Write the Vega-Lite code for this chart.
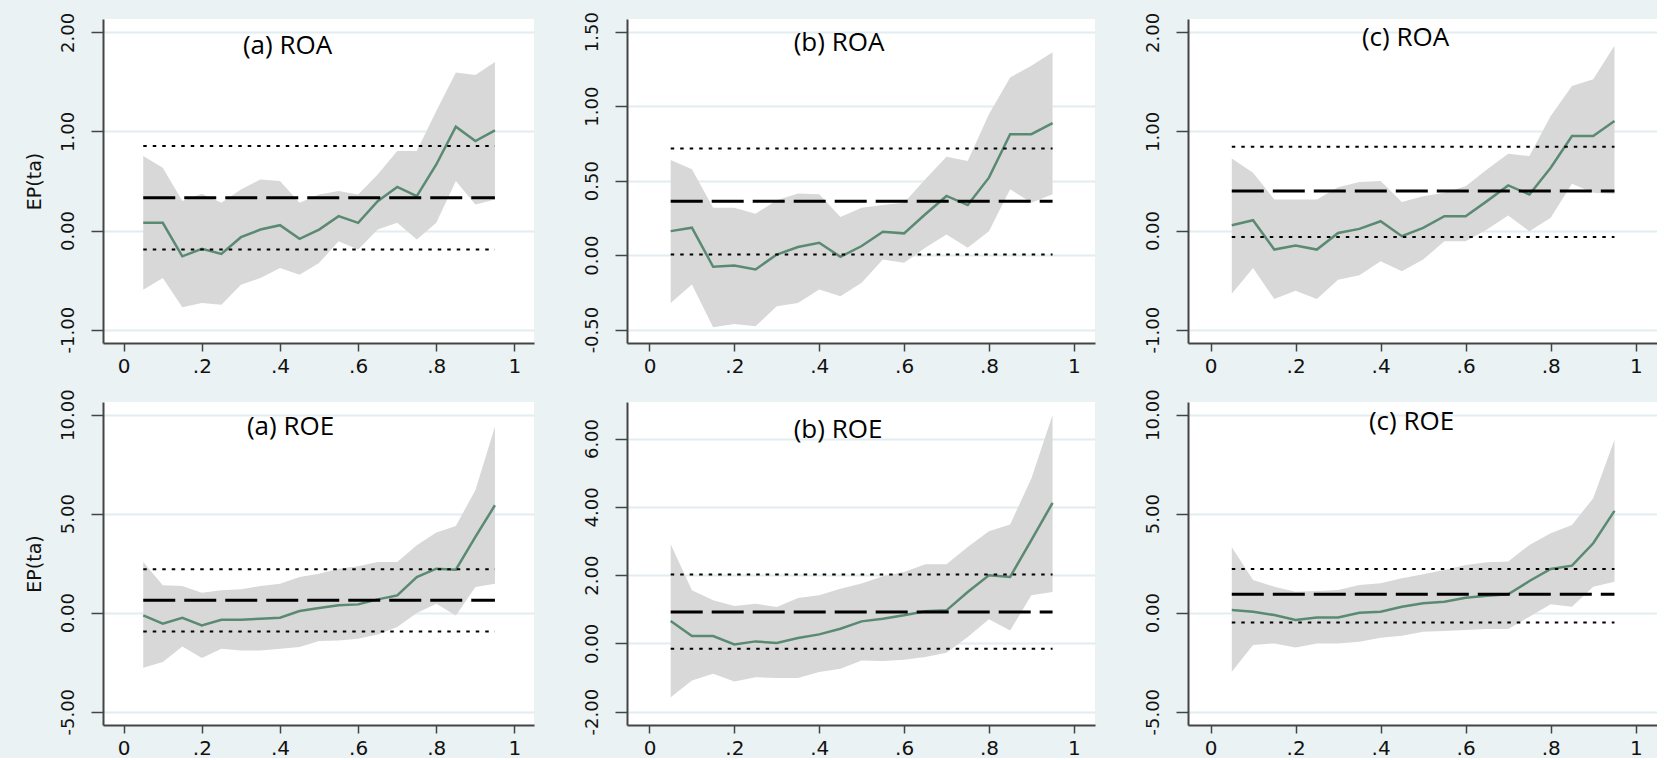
{
  "$schema": "https://vega.github.io/schema/vega-lite/v6.json",
  "background": "#eaf2f3",
  "padding": {"left": 25, "top": 11, "right": 0, "bottom": 0},
  "datasets": {
    "aROA": [
      {"q":0.05,"b":0.078,"lo":-0.597,"hi":0.752,"m":0.33,"ml":-0.192,"mh":0.853},
      {"q":0.10,"b":0.078,"lo":-0.479,"hi":0.634,"m":0.33,"ml":-0.192,"mh":0.853},
      {"q":0.15,"b":-0.26,"lo":-0.775,"hi":0.297,"m":0.33,"ml":-0.192,"mh":0.853},
      {"q":0.20,"b":-0.185,"lo":-0.731,"hi":0.371,"m":0.33,"ml":-0.192,"mh":0.853},
      {"q":0.25,"b":-0.236,"lo":-0.748,"hi":0.28,"m":0.33,"ml":-0.192,"mh":0.853},
      {"q":0.30,"b":-0.067,"lo":-0.546,"hi":0.415,"m":0.33,"ml":-0.192,"mh":0.853},
      {"q":0.35,"b":0.01,"lo":-0.479,"hi":0.516,"m":0.33,"ml":-0.192,"mh":0.853},
      {"q":0.40,"b":0.054,"lo":-0.378,"hi":0.499,"m":0.33,"ml":-0.192,"mh":0.853},
      {"q":0.45,"b":-0.084,"lo":-0.445,"hi":0.28,"m":0.33,"ml":-0.192,"mh":0.853},
      {"q":0.50,"b":0.01,"lo":-0.327,"hi":0.364,"m":0.33,"ml":-0.192,"mh":0.853},
      {"q":0.55,"b":0.145,"lo":-0.108,"hi":0.398,"m":0.33,"ml":-0.192,"mh":0.853},
      {"q":0.60,"b":0.078,"lo":-0.192,"hi":0.364,"m":0.33,"ml":-0.192,"mh":0.853},
      {"q":0.65,"b":0.297,"lo":0.01,"hi":0.566,"m":0.33,"ml":-0.192,"mh":0.853},
      {"q":0.70,"b":0.44,"lo":0.078,"hi":0.802,"m":0.33,"ml":-0.192,"mh":0.853},
      {"q":0.75,"b":0.347,"lo":-0.091,"hi":0.802,"m":0.33,"ml":-0.192,"mh":0.853},
      {"q":0.80,"b":0.667,"lo":0.078,"hi":1.207,"m":0.33,"ml":-0.192,"mh":0.853},
      {"q":0.85,"b":1.048,"lo":0.499,"hi":1.594,"m":0.33,"ml":-0.192,"mh":0.853},
      {"q":0.90,"b":0.903,"lo":0.263,"hi":1.571,"m":0.33,"ml":-0.192,"mh":0.853},
      {"q":0.95,"b":1.01,"lo":0.313,"hi":1.702,"m":0.33,"ml":-0.192,"mh":0.853}
    ],
    "bROA": [
      {"q":0.05,"b":0.161,"lo":-0.321,"hi":0.639,"m":0.361,"ml":0.004,"mh":0.715},
      {"q":0.10,"b":0.184,"lo":-0.197,"hi":0.576,"m":0.361,"ml":0.004,"mh":0.715},
      {"q":0.15,"b":-0.078,"lo":-0.484,"hi":0.318,"m":0.361,"ml":0.004,"mh":0.715},
      {"q":0.20,"b":-0.07,"lo":-0.462,"hi":0.318,"m":0.361,"ml":0.004,"mh":0.715},
      {"q":0.25,"b":-0.096,"lo":-0.478,"hi":0.278,"m":0.361,"ml":0.004,"mh":0.715},
      {"q":0.30,"b":0.004,"lo":-0.343,"hi":0.368,"m":0.361,"ml":0.004,"mh":0.715},
      {"q":0.35,"b":0.054,"lo":-0.321,"hi":0.413,"m":0.361,"ml":0.004,"mh":0.715},
      {"q":0.40,"b":0.083,"lo":-0.231,"hi":0.408,"m":0.361,"ml":0.004,"mh":0.715},
      {"q":0.45,"b":-0.011,"lo":-0.276,"hi":0.256,"m":0.361,"ml":0.004,"mh":0.715},
      {"q":0.50,"b":0.061,"lo":-0.186,"hi":0.318,"m":0.361,"ml":0.004,"mh":0.715},
      {"q":0.55,"b":0.157,"lo":-0.029,"hi":0.336,"m":0.361,"ml":0.004,"mh":0.715},
      {"q":0.60,"b":0.146,"lo":-0.052,"hi":0.352,"m":0.361,"ml":0.004,"mh":0.715},
      {"q":0.65,"b":0.274,"lo":0.049,"hi":0.509,"m":0.361,"ml":0.004,"mh":0.715},
      {"q":0.70,"b":0.397,"lo":0.139,"hi":0.661,"m":0.361,"ml":0.004,"mh":0.715},
      {"q":0.75,"b":0.336,"lo":0.049,"hi":0.632,"m":0.361,"ml":0.004,"mh":0.715},
      {"q":0.80,"b":0.52,"lo":0.161,"hi":0.946,"m":0.361,"ml":0.004,"mh":0.715},
      {"q":0.85,"b":0.812,"lo":0.442,"hi":1.193,"m":0.361,"ml":0.004,"mh":0.715},
      {"q":0.90,"b":0.812,"lo":0.352,"hi":1.271,"m":0.361,"ml":0.004,"mh":0.715},
      {"q":0.95,"b":0.886,"lo":0.408,"hi":1.361,"m":0.361,"ml":0.004,"mh":0.715}
    ],
    "cROA": [
      {"q":0.05,"b":0.054,"lo":-0.637,"hi":0.728,"m":0.398,"ml":-0.064,"mh":0.846},
      {"q":0.10,"b":0.104,"lo":-0.378,"hi":0.583,"m":0.398,"ml":-0.064,"mh":0.846},
      {"q":0.15,"b":-0.192,"lo":-0.691,"hi":0.313,"m":0.398,"ml":-0.064,"mh":0.846},
      {"q":0.20,"b":-0.152,"lo":-0.607,"hi":0.313,"m":0.398,"ml":-0.064,"mh":0.846},
      {"q":0.25,"b":-0.192,"lo":-0.691,"hi":0.313,"m":0.398,"ml":-0.064,"mh":0.846},
      {"q":0.30,"b":-0.024,"lo":-0.496,"hi":0.438,"m":0.398,"ml":-0.064,"mh":0.846},
      {"q":0.35,"b":0.017,"lo":-0.452,"hi":0.489,"m":0.398,"ml":-0.064,"mh":0.846},
      {"q":0.40,"b":0.094,"lo":-0.31,"hi":0.499,"m":0.398,"ml":-0.064,"mh":0.846},
      {"q":0.45,"b":-0.057,"lo":-0.411,"hi":0.287,"m":0.398,"ml":-0.064,"mh":0.846},
      {"q":0.50,"b":0.027,"lo":-0.293,"hi":0.347,"m":0.398,"ml":-0.064,"mh":0.846},
      {"q":0.55,"b":0.145,"lo":-0.108,"hi":0.381,"m":0.398,"ml":-0.064,"mh":0.846},
      {"q":0.60,"b":0.145,"lo":-0.108,"hi":0.448,"m":0.398,"ml":-0.064,"mh":0.846},
      {"q":0.65,"b":0.297,"lo":0.01,"hi":0.617,"m":0.398,"ml":-0.064,"mh":0.846},
      {"q":0.70,"b":0.455,"lo":0.152,"hi":0.775,"m":0.398,"ml":-0.064,"mh":0.846},
      {"q":0.75,"b":0.364,"lo":-0.007,"hi":0.752,"m":0.398,"ml":-0.064,"mh":0.846},
      {"q":0.80,"b":0.634,"lo":0.128,"hi":1.156,"m":0.398,"ml":-0.064,"mh":0.846},
      {"q":0.85,"b":0.954,"lo":0.472,"hi":1.46,"m":0.398,"ml":-0.064,"mh":0.846},
      {"q":0.90,"b":0.954,"lo":0.381,"hi":1.527,"m":0.398,"ml":-0.064,"mh":0.846},
      {"q":0.95,"b":1.106,"lo":0.371,"hi":1.864,"m":0.398,"ml":-0.064,"mh":0.846}
    ],
    "aROE": [
      {"q":0.05,"b":-0.135,"lo":-2.781,"hi":2.562,"m":0.624,"ml":-0.944,"mh":2.191},
      {"q":0.10,"b":-0.556,"lo":-2.494,"hi":1.382,"m":0.624,"ml":-0.944,"mh":2.191},
      {"q":0.15,"b":-0.253,"lo":-1.702,"hi":1.348,"m":0.624,"ml":-0.944,"mh":2.191},
      {"q":0.20,"b":-0.64,"lo":-2.292,"hi":1.011,"m":0.624,"ml":-0.944,"mh":2.191},
      {"q":0.25,"b":-0.354,"lo":-1.82,"hi":1.129,"m":0.624,"ml":-0.944,"mh":2.191},
      {"q":0.30,"b":-0.354,"lo":-1.905,"hi":1.18,"m":0.624,"ml":-0.944,"mh":2.191},
      {"q":0.35,"b":-0.303,"lo":-1.905,"hi":1.348,"m":0.624,"ml":-0.944,"mh":2.191},
      {"q":0.40,"b":-0.253,"lo":-1.82,"hi":1.466,"m":0.624,"ml":-0.944,"mh":2.191},
      {"q":0.45,"b":0.084,"lo":-1.736,"hi":1.803,"m":0.624,"ml":-0.944,"mh":2.191},
      {"q":0.50,"b":0.236,"lo":-1.433,"hi":1.972,"m":0.624,"ml":-0.944,"mh":2.191},
      {"q":0.55,"b":0.371,"lo":-1.399,"hi":2.225,"m":0.624,"ml":-0.944,"mh":2.191},
      {"q":0.60,"b":0.421,"lo":-1.315,"hi":2.343,"m":0.624,"ml":-0.944,"mh":2.191},
      {"q":0.65,"b":0.674,"lo":-1.096,"hi":2.562,"m":0.624,"ml":-0.944,"mh":2.191},
      {"q":0.70,"b":0.876,"lo":-0.725,"hi":2.562,"m":0.624,"ml":-0.944,"mh":2.191},
      {"q":0.75,"b":1.803,"lo":-0.017,"hi":3.405,"m":0.624,"ml":-0.944,"mh":2.191},
      {"q":0.80,"b":2.225,"lo":0.455,"hi":4.045,"m":0.624,"ml":-0.944,"mh":2.191},
      {"q":0.85,"b":2.174,"lo":-0.135,"hi":4.382,"m":0.624,"ml":-0.944,"mh":2.191},
      {"q":0.90,"b":3.826,"lo":1.298,"hi":6.186,"m":0.624,"ml":-0.944,"mh":2.191},
      {"q":0.95,"b":5.427,"lo":1.466,"hi":9.388,"m":0.624,"ml":-0.944,"mh":2.191}
    ],
    "bROE": [
      {"q":0.05,"b":0.655,"lo":-1.575,"hi":2.905,"m":0.919,"ml":-0.156,"mh":2.015},
      {"q":0.10,"b":0.215,"lo":-1.086,"hi":1.555,"m":0.919,"ml":-0.156,"mh":2.015},
      {"q":0.15,"b":0.215,"lo":-0.89,"hi":1.262,"m":0.919,"ml":-0.156,"mh":2.015},
      {"q":0.20,"b":-0.029,"lo":-1.115,"hi":1.095,"m":0.919,"ml":-0.156,"mh":2.015},
      {"q":0.25,"b":0.059,"lo":-0.988,"hi":1.164,"m":0.919,"ml":-0.156,"mh":2.015},
      {"q":0.30,"b":0.01,"lo":-1.017,"hi":1.066,"m":0.919,"ml":-0.156,"mh":2.015},
      {"q":0.35,"b":0.156,"lo":-1.017,"hi":1.33,"m":0.919,"ml":-0.156,"mh":2.015},
      {"q":0.40,"b":0.264,"lo":-0.841,"hi":1.408,"m":0.919,"ml":-0.156,"mh":2.015},
      {"q":0.45,"b":0.43,"lo":-0.743,"hi":1.604,"m":0.919,"ml":-0.156,"mh":2.015},
      {"q":0.50,"b":0.645,"lo":-0.499,"hi":1.751,"m":0.919,"ml":-0.156,"mh":2.015},
      {"q":0.55,"b":0.724,"lo":-0.518,"hi":1.966,"m":0.919,"ml":-0.156,"mh":2.015},
      {"q":0.60,"b":0.822,"lo":-0.479,"hi":2.093,"m":0.919,"ml":-0.156,"mh":2.015},
      {"q":0.65,"b":0.939,"lo":-0.401,"hi":2.318,"m":0.919,"ml":-0.156,"mh":2.015},
      {"q":0.70,"b":0.968,"lo":-0.274,"hi":2.318,"m":0.919,"ml":-0.156,"mh":2.015},
      {"q":0.75,"b":1.506,"lo":0.186,"hi":2.826,"m":0.919,"ml":-0.156,"mh":2.015},
      {"q":0.80,"b":1.995,"lo":0.704,"hi":3.286,"m":0.919,"ml":-0.156,"mh":2.015},
      {"q":0.85,"b":1.946,"lo":0.381,"hi":3.482,"m":0.919,"ml":-0.156,"mh":2.015},
      {"q":0.90,"b":3.022,"lo":1.408,"hi":4.831,"m":0.919,"ml":-0.156,"mh":2.015},
      {"q":0.95,"b":4.117,"lo":1.506,"hi":6.689,"m":0.919,"ml":-0.156,"mh":2.015}
    ],
    "cROE": [
      {"q":0.05,"b":0.135,"lo":-2.985,"hi":3.305,"m":0.927,"ml":-0.489,"mh":2.209},
      {"q":0.10,"b":0.051,"lo":-1.636,"hi":1.653,"m":0.927,"ml":-0.489,"mh":2.209},
      {"q":0.15,"b":-0.118,"lo":-1.551,"hi":1.315,"m":0.927,"ml":-0.489,"mh":2.209},
      {"q":0.20,"b":-0.371,"lo":-1.754,"hi":1.062,"m":0.927,"ml":-0.489,"mh":2.209},
      {"q":0.25,"b":-0.236,"lo":-1.551,"hi":1.096,"m":0.927,"ml":-0.489,"mh":2.209},
      {"q":0.30,"b":-0.236,"lo":-1.551,"hi":1.147,"m":0.927,"ml":-0.489,"mh":2.209},
      {"q":0.35,"b":0.0,"lo":-1.467,"hi":1.4,"m":0.927,"ml":-0.489,"mh":2.209},
      {"q":0.40,"b":0.051,"lo":-1.265,"hi":1.484,"m":0.927,"ml":-0.489,"mh":2.209},
      {"q":0.45,"b":0.304,"lo":-1.164,"hi":1.737,"m":0.927,"ml":-0.489,"mh":2.209},
      {"q":0.50,"b":0.472,"lo":-0.961,"hi":1.939,"m":0.927,"ml":-0.489,"mh":2.209},
      {"q":0.55,"b":0.556,"lo":-0.927,"hi":2.159,"m":0.927,"ml":-0.489,"mh":2.209},
      {"q":0.60,"b":0.759,"lo":-0.877,"hi":2.411,"m":0.927,"ml":-0.489,"mh":2.209},
      {"q":0.65,"b":0.86,"lo":-0.826,"hi":2.546,"m":0.927,"ml":-0.489,"mh":2.209},
      {"q":0.70,"b":0.927,"lo":-0.826,"hi":2.58,"m":0.927,"ml":-0.489,"mh":2.209},
      {"q":0.75,"b":1.602,"lo":-0.202,"hi":3.423,"m":0.927,"ml":-0.489,"mh":2.209},
      {"q":0.80,"b":2.209,"lo":0.422,"hi":4.013,"m":0.927,"ml":-0.489,"mh":2.209},
      {"q":0.85,"b":2.378,"lo":0.304,"hi":4.435,"m":0.927,"ml":-0.489,"mh":2.209},
      {"q":0.90,"b":3.508,"lo":1.315,"hi":5.784,"m":0.927,"ml":-0.489,"mh":2.209},
      {"q":0.95,"b":5.143,"lo":1.568,"hi":8.735,"m":0.927,"ml":-0.489,"mh":2.209}
    ]
  },
  "columns": 3,
  "align": "each",
  "bounds": "flush",
  "spacing": {"row": 59, "column": 93},
  "concat": [
    {
      "width": 431, "height": 324,
      "data": {"name": "aROA"},
      "title": {"text": "(a) ROA", "dx": -31, "offset": -47},
      "encoding": {
        "x": {"field": "q", "type": "quantitative", "title": null, "scale": {"domain": [-0.053, 1.05], "nice": false, "zero": false}, "axis": {"values": [0, 0.2, 0.4, 0.6, 0.8, 1]}},
        "y": {"field": "b", "type": "quantitative", "title": "EP(ta)", "scale": {"domain": [-1.135, 2.135], "nice": false, "zero": false}, "axis": {"values": [-1, 0, 1, 2]}}
      },
      "layer": [
        {"mark": {"type": "area", "color": "#d8d8d8"}, "encoding": {"y": {"field": "lo", "type": "quantitative", "title": "EP(ta)", "scale": {"domain": [-1.135, 2.135], "nice": false, "zero": false}, "axis": {"values": [-1, 0, 1, 2]}}, "y2": {"field": "hi"}}},
        {"mark": {"type": "line", "color": "#5a8a72", "strokeWidth": 2.5}},
        {"mark": {"type": "line", "color": "black", "strokeWidth": 3, "strokeDash": [32, 9]}, "encoding": {"y": {"field": "m", "type": "quantitative", "title": "EP(ta)", "scale": {"domain": [-1.135, 2.135], "nice": false, "zero": false}, "axis": {"values": [-1, 0, 1, 2]}}}},
        {"mark": {"type": "line", "color": "black", "strokeWidth": 2, "strokeDash": [3.5, 6]}, "encoding": {"y": {"field": "ml", "type": "quantitative", "title": "EP(ta)", "scale": {"domain": [-1.135, 2.135], "nice": false, "zero": false}, "axis": {"values": [-1, 0, 1, 2]}}}},
        {"mark": {"type": "line", "color": "black", "strokeWidth": 2, "strokeDash": [3.5, 6]}, "encoding": {"y": {"field": "mh", "type": "quantitative", "title": "EP(ta)", "scale": {"domain": [-1.135, 2.135], "nice": false, "zero": false}, "axis": {"values": [-1, 0, 1, 2]}}}}
      ]
    },
    {
      "width": 468, "height": 324,
      "data": {"name": "bROA"},
      "title": {"text": "(b) ROA", "dx": -22, "offset": -44},
      "encoding": {
        "x": {"field": "q", "type": "quantitative", "title": null, "scale": {"domain": [-0.053, 1.05], "nice": false, "zero": false}, "axis": {"values": [0, 0.2, 0.4, 0.6, 0.8, 1]}},
        "y": {"field": "b", "type": "quantitative", "title": null, "scale": {"domain": [-0.59, 1.585], "nice": false, "zero": false}, "axis": {"values": [-0.5, 0, 0.5, 1, 1.5]}}
      },
      "layer": [
        {"mark": {"type": "area", "color": "#d8d8d8"}, "encoding": {"y": {"field": "lo", "type": "quantitative", "title": null, "scale": {"domain": [-0.59, 1.585], "nice": false, "zero": false}, "axis": {"values": [-0.5, 0, 0.5, 1, 1.5]}}, "y2": {"field": "hi"}}},
        {"mark": {"type": "line", "color": "#5a8a72", "strokeWidth": 2.5}},
        {"mark": {"type": "line", "color": "black", "strokeWidth": 3, "strokeDash": [32, 9]}, "encoding": {"y": {"field": "m", "type": "quantitative", "title": null, "scale": {"domain": [-0.59, 1.585], "nice": false, "zero": false}, "axis": {"values": [-0.5, 0, 0.5, 1, 1.5]}}}},
        {"mark": {"type": "line", "color": "black", "strokeWidth": 2, "strokeDash": [3.5, 6]}, "encoding": {"y": {"field": "ml", "type": "quantitative", "title": null, "scale": {"domain": [-0.59, 1.585], "nice": false, "zero": false}, "axis": {"values": [-0.5, 0, 0.5, 1, 1.5]}}}},
        {"mark": {"type": "line", "color": "black", "strokeWidth": 2, "strokeDash": [3.5, 6]}, "encoding": {"y": {"field": "mh", "type": "quantitative", "title": null, "scale": {"domain": [-0.59, 1.585], "nice": false, "zero": false}, "axis": {"values": [-0.5, 0, 0.5, 1, 1.5]}}}}
      ]
    },
    {
      "width": 469, "height": 324,
      "data": {"name": "cROA"},
      "title": {"text": "(c) ROA", "dx": -17, "offset": -39},
      "encoding": {
        "x": {"field": "q", "type": "quantitative", "title": null, "scale": {"domain": [-0.053, 1.05], "nice": false, "zero": false}, "axis": {"values": [0, 0.2, 0.4, 0.6, 0.8, 1]}},
        "y": {"field": "b", "type": "quantitative", "title": null, "scale": {"domain": [-1.135, 2.135], "nice": false, "zero": false}, "axis": {"values": [-1, 0, 1, 2]}}
      },
      "layer": [
        {"mark": {"type": "area", "color": "#d8d8d8"}, "encoding": {"y": {"field": "lo", "type": "quantitative", "title": null, "scale": {"domain": [-1.135, 2.135], "nice": false, "zero": false}, "axis": {"values": [-1, 0, 1, 2]}}, "y2": {"field": "hi"}}},
        {"mark": {"type": "line", "color": "#5a8a72", "strokeWidth": 2.5}},
        {"mark": {"type": "line", "color": "black", "strokeWidth": 3, "strokeDash": [32, 9]}, "encoding": {"y": {"field": "m", "type": "quantitative", "title": null, "scale": {"domain": [-1.135, 2.135], "nice": false, "zero": false}, "axis": {"values": [-1, 0, 1, 2]}}}},
        {"mark": {"type": "line", "color": "black", "strokeWidth": 2, "strokeDash": [3.5, 6]}, "encoding": {"y": {"field": "ml", "type": "quantitative", "title": null, "scale": {"domain": [-1.135, 2.135], "nice": false, "zero": false}, "axis": {"values": [-1, 0, 1, 2]}}}},
        {"mark": {"type": "line", "color": "black", "strokeWidth": 2, "strokeDash": [3.5, 6]}, "encoding": {"y": {"field": "mh", "type": "quantitative", "title": null, "scale": {"domain": [-1.135, 2.135], "nice": false, "zero": false}, "axis": {"values": [-1, 0, 1, 2]}}}}
      ]
    },
    {
      "width": 431, "height": 323,
      "data": {"name": "aROE"},
      "title": {"text": "(a) ROE", "dx": -28, "offset": -51},
      "encoding": {
        "x": {"field": "q", "type": "quantitative", "title": null, "scale": {"domain": [-0.053, 1.05], "nice": false, "zero": false}, "axis": {"values": [0, 0.2, 0.4, 0.6, 0.8, 1]}},
        "y": {"field": "b", "type": "quantitative", "title": "EP(ta)", "scale": {"domain": [-5.67, 10.64], "nice": false, "zero": false}, "axis": {"values": [-5, 0, 5, 10]}}
      },
      "layer": [
        {"mark": {"type": "area", "color": "#d8d8d8"}, "encoding": {"y": {"field": "lo", "type": "quantitative", "title": "EP(ta)", "scale": {"domain": [-5.67, 10.64], "nice": false, "zero": false}, "axis": {"values": [-5, 0, 5, 10]}}, "y2": {"field": "hi"}}},
        {"mark": {"type": "line", "color": "#5a8a72", "strokeWidth": 2.5}},
        {"mark": {"type": "line", "color": "black", "strokeWidth": 3, "strokeDash": [32, 9]}, "encoding": {"y": {"field": "m", "type": "quantitative", "title": "EP(ta)", "scale": {"domain": [-5.67, 10.64], "nice": false, "zero": false}, "axis": {"values": [-5, 0, 5, 10]}}}},
        {"mark": {"type": "line", "color": "black", "strokeWidth": 2, "strokeDash": [3.5, 6]}, "encoding": {"y": {"field": "ml", "type": "quantitative", "title": "EP(ta)", "scale": {"domain": [-5.67, 10.64], "nice": false, "zero": false}, "axis": {"values": [-5, 0, 5, 10]}}}},
        {"mark": {"type": "line", "color": "black", "strokeWidth": 2, "strokeDash": [3.5, 6]}, "encoding": {"y": {"field": "mh", "type": "quantitative", "title": "EP(ta)", "scale": {"domain": [-5.67, 10.64], "nice": false, "zero": false}, "axis": {"values": [-5, 0, 5, 10]}}}}
      ]
    },
    {
      "width": 468, "height": 323,
      "data": {"name": "bROE"},
      "title": {"text": "(b) ROE", "dx": -23, "offset": -41},
      "encoding": {
        "x": {"field": "q", "type": "quantitative", "title": null, "scale": {"domain": [-0.053, 1.05], "nice": false, "zero": false}, "axis": {"values": [0, 0.2, 0.4, 0.6, 0.8, 1]}},
        "y": {"field": "b", "type": "quantitative", "title": null, "scale": {"domain": [-2.39, 7.07], "nice": false, "zero": false}, "axis": {"values": [-2, 0, 2, 4, 6]}}
      },
      "layer": [
        {"mark": {"type": "area", "color": "#d8d8d8"}, "encoding": {"y": {"field": "lo", "type": "quantitative", "title": null, "scale": {"domain": [-2.39, 7.07], "nice": false, "zero": false}, "axis": {"values": [-2, 0, 2, 4, 6]}}, "y2": {"field": "hi"}}},
        {"mark": {"type": "line", "color": "#5a8a72", "strokeWidth": 2.5}},
        {"mark": {"type": "line", "color": "black", "strokeWidth": 3, "strokeDash": [32, 9]}, "encoding": {"y": {"field": "m", "type": "quantitative", "title": null, "scale": {"domain": [-2.39, 7.07], "nice": false, "zero": false}, "axis": {"values": [-2, 0, 2, 4, 6]}}}},
        {"mark": {"type": "line", "color": "black", "strokeWidth": 2, "strokeDash": [3.5, 6]}, "encoding": {"y": {"field": "ml", "type": "quantitative", "title": null, "scale": {"domain": [-2.39, 7.07], "nice": false, "zero": false}, "axis": {"values": [-2, 0, 2, 4, 6]}}}},
        {"mark": {"type": "line", "color": "black", "strokeWidth": 2, "strokeDash": [3.5, 6]}, "encoding": {"y": {"field": "mh", "type": "quantitative", "title": null, "scale": {"domain": [-2.39, 7.07], "nice": false, "zero": false}, "axis": {"values": [-2, 0, 2, 4, 6]}}}}
      ]
    },
    {
      "width": 469, "height": 323,
      "data": {"name": "cROE"},
      "title": {"text": "(c) ROE", "dx": -11, "offset": -46},
      "encoding": {
        "x": {"field": "q", "type": "quantitative", "title": null, "scale": {"domain": [-0.053, 1.05], "nice": false, "zero": false}, "axis": {"values": [0, 0.2, 0.4, 0.6, 0.8, 1]}},
        "y": {"field": "b", "type": "quantitative", "title": null, "scale": {"domain": [-5.67, 10.64], "nice": false, "zero": false}, "axis": {"values": [-5, 0, 5, 10]}}
      },
      "layer": [
        {"mark": {"type": "area", "color": "#d8d8d8"}, "encoding": {"y": {"field": "lo", "type": "quantitative", "title": null, "scale": {"domain": [-5.67, 10.64], "nice": false, "zero": false}, "axis": {"values": [-5, 0, 5, 10]}}, "y2": {"field": "hi"}}},
        {"mark": {"type": "line", "color": "#5a8a72", "strokeWidth": 2.5}},
        {"mark": {"type": "line", "color": "black", "strokeWidth": 3, "strokeDash": [32, 9]}, "encoding": {"y": {"field": "m", "type": "quantitative", "title": null, "scale": {"domain": [-5.67, 10.64], "nice": false, "zero": false}, "axis": {"values": [-5, 0, 5, 10]}}}},
        {"mark": {"type": "line", "color": "black", "strokeWidth": 2, "strokeDash": [3.5, 6]}, "encoding": {"y": {"field": "ml", "type": "quantitative", "title": null, "scale": {"domain": [-5.67, 10.64], "nice": false, "zero": false}, "axis": {"values": [-5, 0, 5, 10]}}}},
        {"mark": {"type": "line", "color": "black", "strokeWidth": 2, "strokeDash": [3.5, 6]}, "encoding": {"y": {"field": "mh", "type": "quantitative", "title": null, "scale": {"domain": [-5.67, 10.64], "nice": false, "zero": false}, "axis": {"values": [-5, 0, 5, 10]}}}}
      ]
    }
  ],
  "config": {
    "view": {"fill": "white", "stroke": null},
    "axis": {
      "domainColor": "#444444", "domainWidth": 2, "tickColor": "#444444", "tickWidth": 1.5,
      "labelColor": "#111111", "labelFont": "DejaVu Sans", "titleFont": "DejaVu Sans",
      "titleFontWeight": "normal", "titleColor": "#111111"
    },
    "axisX": {
      "grid": false, "tickSize": 8, "labelPadding": 5, "labelFontSize": 20,
      "labelExpr": "datum.value == 0 ? '0' : datum.value == 1 ? '1' : '.' + format(datum.value * 10, '.0f')"
    },
    "axisY": {
      "grid": true, "gridColor": "#e2edf0", "gridWidth": 2, "tickSize": 12,
      "labelAngle": -90, "labelAlign": "center", "labelBaseline": "alphabetic", "labelPadding": 18, "labelFontSize": 18,
      "labelExpr": "replace(format(datum.value, '.2f'), '\u2212', '-')",
      "titleFontSize": 19, "titlePadding": 15
    },
    "title": {"font": "Open Sans", "fontSize": 26, "fontWeight": "normal", "color": "black", "baseline": "alphabetic", "frame": "group", "anchor": "middle"}
  }
}
